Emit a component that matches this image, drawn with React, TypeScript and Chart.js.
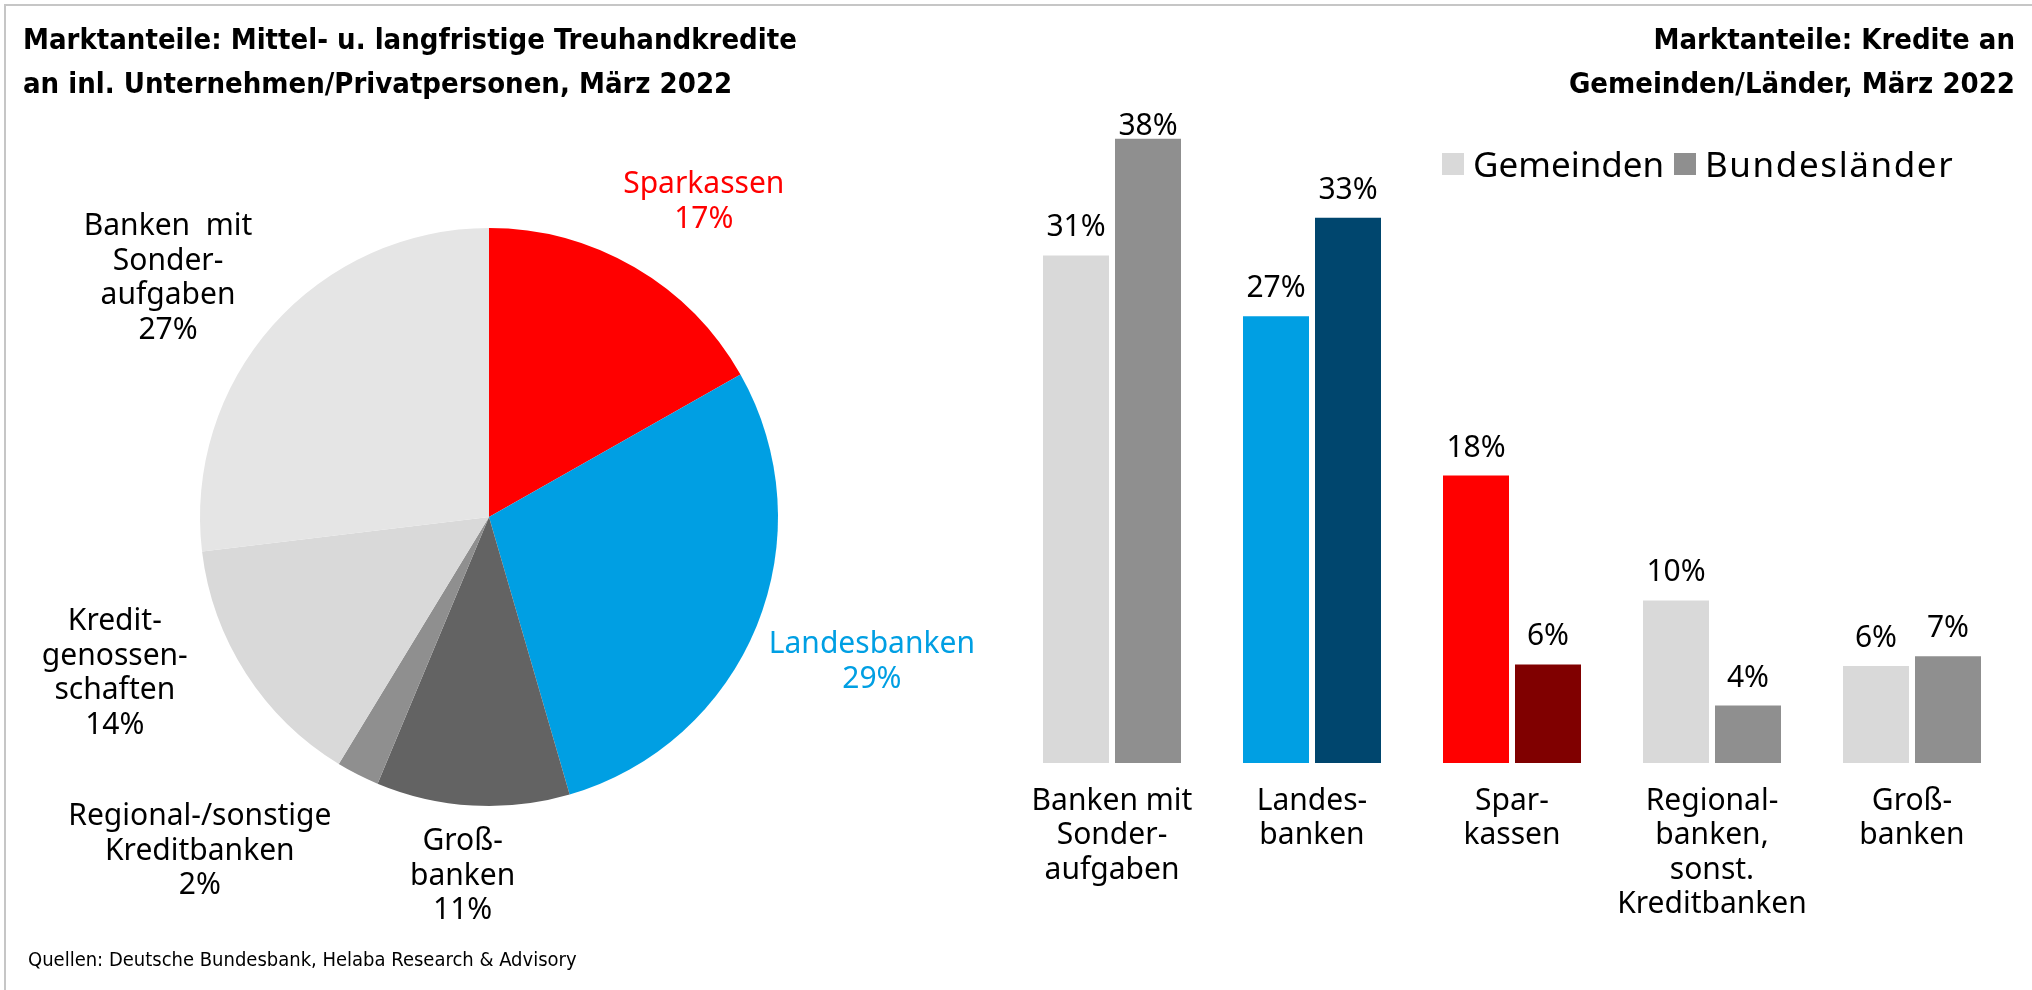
import React, { useEffect, useRef } from "react";
import { Chart, registerables } from "chart.js";

Chart.register(...registerables);

// ---------- Pie data (Treuhandkredite) ----------
const PIE_NAMES: string[][] = [
  ["Sparkassen"],
  ["Landesbanken"],
  ["Groß-", "banken"],
  ["Regional-/sonstige", "Kreditbanken"],
  ["Kredit-", "genossen-", "schaften"],
  ["Banken  mit", "Sonder-", "aufgaben"],
];
const PIE_VALUES = [16.8, 28.7, 10.8, 2.4, 14.4, 26.9];
const PIE_PCT = ["17%", "29%", "11%", "2%", "14%", "27%"];
const PIE_COLORS = ["#ff0000", "#009fe3", "#636363", "#8f8f8f", "#d9d9d9", "#e5e5e5"];
const PIE_TEXT_COLORS = ["#ff0000", "#009fe3", "#000000", "#000000", "#000000", "#000000"];
// label placement (layout): distance in radii, angular nudge in degrees
const PIE_LABEL_DIST = [1.331, 1.412, 1.232, 1.519, 1.398, 1.392];
const PIE_LABEL_NUDGE = [3.7, -1.9, 1.0, 14.2, 10.6, -4.5];

// ---------- Bar data (Kredite an Gemeinden/Länder) ----------
const BAR_CATEGORIES: string[][] = [
  ["Banken mit", "Sonder-", "aufgaben"],
  ["Landes-", "banken"],
  ["Spar-", "kassen"],
  ["Regional-", "banken,", "sonst.", "Kreditbanken"],
  ["Groß-", "banken"],
];
const GEMEINDEN = [30.9, 27.2, 17.5, 9.9, 5.9];
const BUNDESLAENDER = [38.0, 33.2, 6.0, 3.5, 6.5];
const GEMEINDEN_LABELS = ["31%", "27%", "18%", "10%", "6%"];
const BUNDESLAENDER_LABELS = ["38%", "33%", "6%", "4%", "7%"];
const GEMEINDEN_COLORS = ["#d9d9d9", "#009fe3", "#ff0000", "#d9d9d9", "#d9d9d9"];
const BUNDESLAENDER_COLORS = ["#8f8f8f", "#00466e", "#800000", "#8f8f8f", "#8f8f8f"];

const LABEL_FONT = '30px "Noto Sans"';
const COND = '"DejaVu Sans Condensed", "DejaVu Sans", sans-serif';

const pieLabelPlugin = {
  id: "pieLabels",
  afterDatasetsDraw(chart: any) {
    const ctx = chart.ctx;
    const meta = chart.getDatasetMeta(0);
    ctx.save();
    ctx.font = LABEL_FONT;
    ctx.textAlign = "center";
    ctx.textBaseline = "middle";
    meta.data.forEach((arc: any, i: number) => {
      const p = arc.getProps(["x", "y", "startAngle", "endAngle", "outerRadius"], true);
      const mid = (p.startAngle + p.endAngle) / 2 + (PIE_LABEL_NUDGE[i] * Math.PI) / 180;
      const d = p.outerRadius * PIE_LABEL_DIST[i];
      const cx = p.x + Math.cos(mid) * d;
      const cy = p.y + Math.sin(mid) * d + 4;
      const lines = [...PIE_NAMES[i], PIE_PCT[i]];
      const lh = 34.5;
      ctx.fillStyle = PIE_TEXT_COLORS[i];
      lines.forEach((ln, k) => {
        ctx.fillText(ln, cx, cy + (k - (lines.length - 1) / 2) * lh);
      });
    });
    ctx.restore();
  },
};

const barLabelPlugin = {
  id: "barLabels",
  afterDatasetsDraw(chart: any) {
    const ctx = chart.ctx;
    const labelSets = [GEMEINDEN_LABELS, BUNDESLAENDER_LABELS];
    const top = chart.chartArea.top;
    ctx.save();
    ctx.font = LABEL_FONT;
    ctx.textAlign = "center";
    ctx.textBaseline = "alphabetic";
    ctx.fillStyle = "#000";
    chart.data.datasets.forEach((_: any, di: number) => {
      const meta = chart.getDatasetMeta(di);
      meta.data.forEach((bar: any, i: number) => {
        const y = Math.max(bar.y - 19, top + 29);
        ctx.fillText(labelSets[di][i], bar.x, y);
      });
    });
    // category labels under the bars
    const xScale = chart.scales.x;
    const bottom = chart.chartArea.bottom;
    ctx.textBaseline = "middle";
    BAR_CATEGORIES.forEach((lines, i) => {
      const x = xScale.getPixelForValue(i);
      lines.forEach((ln, k) => {
        ctx.fillText(ln, x, bottom + 38 + k * 34.5);
      });
    });
    ctx.restore();
  },
};

export default function App() {
  const pieRef = useRef<HTMLCanvasElement>(null);
  const barRef = useRef<HTMLCanvasElement>(null);

  useEffect(() => {
    const pie = new Chart(pieRef.current as HTMLCanvasElement, {
      type: "pie",
      data: {
        labels: PIE_NAMES.map((l) => l.join(" ")),
        datasets: [
          {
            data: PIE_VALUES,
            backgroundColor: PIE_COLORS,
            borderWidth: 0,
          },
        ],
      },
      options: {
        animation: false,
        responsive: false,
        maintainAspectRatio: false,
        layout: { padding: { left: 200, right: 222, top: 228, bottom: 184 } },
        plugins: { legend: { display: false }, tooltip: { enabled: false } },
      },
      plugins: [pieLabelPlugin],
    } as any);

    const bar = new Chart(barRef.current as HTMLCanvasElement, {
      type: "bar",
      data: {
        labels: BAR_CATEGORIES.map((l) => l.join(" ")),
        datasets: [
          {
            label: "Gemeinden",
            data: GEMEINDEN,
            backgroundColor: GEMEINDEN_COLORS,
            borderWidth: 0,
            categoryPercentage: 0.72,
            barPercentage: 66 / 72,
          },
          {
            label: "Bundesländer",
            data: BUNDESLAENDER,
            backgroundColor: BUNDESLAENDER_COLORS,
            borderWidth: 0,
            categoryPercentage: 0.72,
            barPercentage: 66 / 72,
          },
        ],
      },
      options: {
        animation: false,
        responsive: false,
        maintainAspectRatio: false,
        layout: { padding: { left: 12, right: 20, top: 106, bottom: 227 } },
        scales: {
          x: { display: false },
          y: { display: false, min: 0, max: 40 },
        },
        plugins: { legend: { display: false }, tooltip: { enabled: false } },
      },
      plugins: [barLabelPlugin],
    } as any);

    return () => {
      pie.destroy();
      bar.destroy();
    };
  }, []);

  const titleStyle: React.CSSProperties = {
    position: "absolute",
    top: 17,
    fontFamily: COND,
    fontWeight: "bold",
    fontSize: 29,
    lineHeight: "44px",
    color: "#000",
    whiteSpace: "nowrap",
  };

  const legendText: React.CSSProperties = {
    position: "absolute",
    top: 144,
    fontFamily: '"Noto Sans", sans-serif',
    fontSize: 35,
    lineHeight: "40px",
    whiteSpace: "nowrap",
    color: "#000",
  };

  return (
    <div
      style={{
        position: "absolute",
        left: 0,
        top: 0,
        width: 2032,
        height: 990,
        background: "#ffffff",
        overflow: "hidden",
      }}
    >
      <div
        style={{
          position: "absolute",
          left: 4,
          top: 4,
          right: 0,
          bottom: 0,
          borderTop: "2px solid #c6c6c6",
          borderLeft: "2px solid #c6c6c6",
        }}
      />
      <canvas ref={pieRef} width={1000} height={990} style={{ position: "absolute", left: 0, top: 0 }} />
      <canvas ref={barRef} width={1032} height={990} style={{ position: "absolute", left: 1000, top: 0 }} />

      <div style={{ ...titleStyle, left: 23 }}>
        Marktanteile: Mittel- u. langfristige Treuhandkredite
        <br />
        an inl. Unternehmen/Privatpersonen, März 2022
      </div>
      <div style={{ ...titleStyle, right: 17, textAlign: "right" }}>
        Marktanteile: Kredite an
        <br />
        Gemeinden/Länder, März 2022
      </div>

      {/* legend */}
      <div style={{ position: "absolute", left: 1442, top: 153, width: 22, height: 22, background: "#d9d9d9" }} />
      <div style={{ ...legendText, left: 1473 }}>Gemeinden</div>
      <div style={{ position: "absolute", left: 1674, top: 153, width: 22, height: 22, background: "#8f8f8f" }} />
      <div style={{ ...legendText, left: 1705, letterSpacing: 1.6 }}>Bundesländer</div>

      <div
        style={{
          position: "absolute",
          left: 28,
          top: 947,
          fontFamily: COND,
          fontSize: 20,
          lineHeight: "24px",
          whiteSpace: "nowrap",
          color: "#000",
        }}
      >
        Quellen: Deutsche Bundesbank, Helaba Research &amp; Advisory
      </div>
    </div>
  );
}
